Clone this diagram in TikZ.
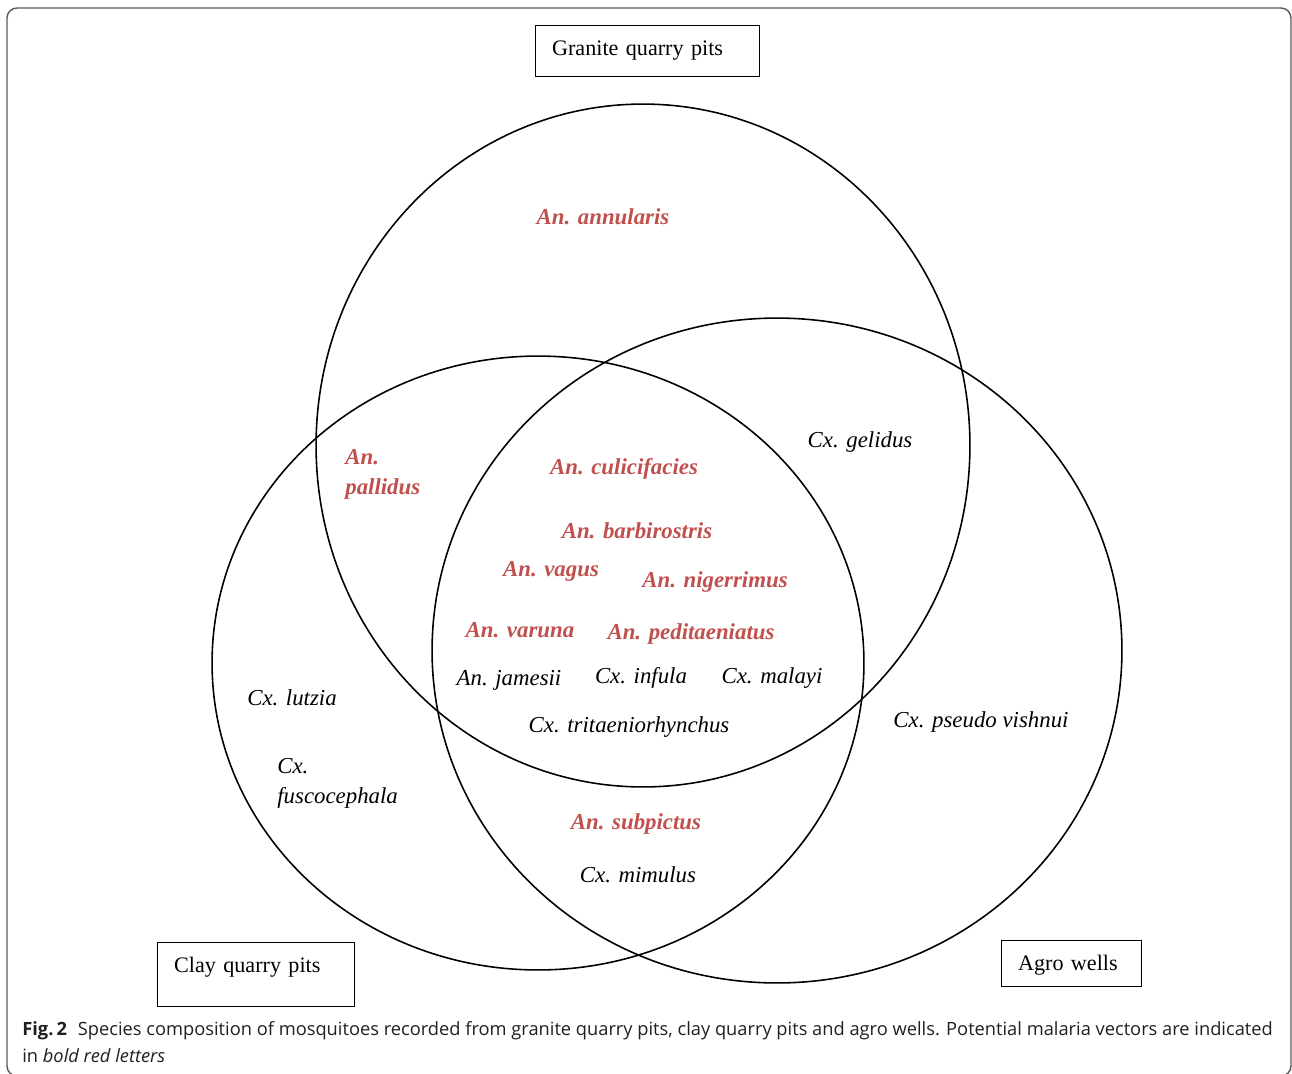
\documentclass[tikz,border=0pt]{standalone}
\usepackage{fontspec}
\setmainfont{Liberation Serif}
\newfontfamily\capfont{Open Sans}
\usetikzlibrary{shapes.geometric}
\usetikzlibrary{positioning}
\definecolor{vecred}{HTML}{C0504D}
\definecolor{capgray}{HTML}{231F20}
\tikzstyle{venn} = [ellipse, draw=black, line width=0.9pt, inner sep=0pt]
\tikzstyle{site} = [rectangle, draw=black, line width=0.7pt, anchor=north west, inner ysep=0pt, inner xsep=0.33cm, align=left, font=\fontsize{12.6}{15}\selectfont]
\tikzstyle{sp} = [inner sep=0pt, align=left, font=\fontsize{13}{17}\selectfont\itshape]
\tikzstyle{vector} = [inner sep=0pt, align=left, text=vecred, font=\fontsize{13}{17}\selectfont\bfseries\itshape]
\tikzstyle{captext} = [inner sep=0pt, anchor=base west, text=capgray, font=\capfont\fontsize{10.4}{12}\selectfont]

\begin{document}
\begin{tikzpicture}[x=0.02cm, y=-0.02cm]
 \useasboundingbox (0,0) rectangle (1292,1073);
 \draw[draw=black!65, line width=0.8pt, rounded corners=0.2cm] (7,8) rectangle (1291,1076);

 % the three habitats
 \node (granite) [venn, minimum width=13.08cm, minimum height=13.66cm] at (643,445.5) {};
 \node (clay) [venn, minimum width=13.04cm, minimum height=12.28cm] at (538,663) {};
 \node (agro) [venn, minimum width=13.8cm, minimum height=13.3cm] at (777,650.5) {};

 \node (granitebox) [site, text width=3.82cm, text height=0.6cm, text depth=0.42cm] at (535,25) {Granite quarry pits};
 \node (claybox) [site, text width=3.28cm, text height=0.6cm, text depth=0.68cm] at (157,942) {Clay quarry pits};
 \node (agrobox) [site, text width=2.14cm, text height=0.6cm, text depth=0.32cm] at (1001,940) {Agro wells};

 % granite only
 \node (annularis) [vector] at (603,217) {An. annularis};
 % granite and agro
 \node (gelidus) [sp] at (860,442) {Cx. gelidus};
 % granite and clay
 \node (pallidus) [vector, anchor=west] at (345,474) {An.\\pallidus};
 % all three
 \node (culicifacies) [vector] at (624,469) {An. culicifacies};
 \node (barbirostris) [vector] at (637,531) {An. barbirostris};
 \node (vagus) [vector] at (551,571) {An. vagus};
 \node (nigerrimus) [vector] at (715,582) {An. nigerrimus};
 \node (varuna) [vector] at (520,630) {An. varuna};
 \node (peditaeniatus) [vector] at (691,634) {An. peditaeniatus};
 \node (jamesii) [sp] at (509,680) {An. jamesii};
 \node (infula) [sp] at (641,678) {Cx. infula};
 \node (malayi) [sp] at (772,678) {Cx. malayi};
 \node (tritaenio) [sp] at (629,727) {Cx. tritaeniorhynchus};
 % clay only
 \node (lutzia) [sp] at (292,698) {Cx. lutzia};
 \node (fuscocephala) [sp, anchor=west] at (277,783) {Cx.\\fuscocephala};
 % agro only
 \node (vishnui) [sp] at (981,722) {Cx. pseudo vishnui};
 % clay and agro
 \node (subpictus) [vector] at (636,824) {An. subpictus};
 \node (mimulus) [sp] at (638,875) {Cx. mimulus};

 % caption
 \node (capline1) [captext] at (22,1035) {\textbf{Fig.\,2}\hspace{0.6em}Species composition of mosquitoes recorded from granite quarry pits, clay quarry pits and agro wells. Potential malaria vectors are indicated};
 \node (capline2) [captext] at (22,1062) {in \textit{bold red letters}};
\end{tikzpicture}
\end{document}
